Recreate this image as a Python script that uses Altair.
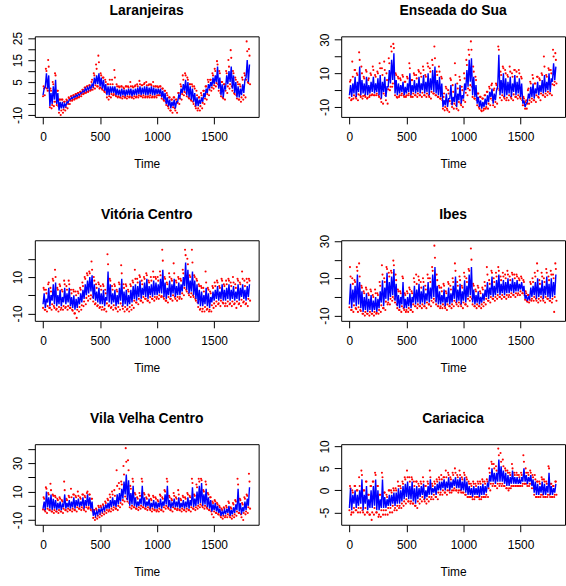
import altair as alt
import pandas as pd

FONT = "Liberation Sans"
STEP = 20  # time step between successive entries of every array below

# ---------------- Laranjeiras ----------------
lar_blue_hi = [2, 9, 8, 0, 3, 6, 0, -4, -4, -5,
               -4, -3, -2, -1.5, -1, -0.5, 0, 1, 2, 2.5,
               3, 4, 7, 8, 9, 7, 6, 4, 3, 3,
               3, 3, 2, 1.5, 2, 1.5, 1.5, 2, 2, 1.5,
               2, 2.5, 3, 2.5, 3, 3, 2.5, 3, 2.5, 2,
               2, 2, 1, 0, -2, -3, -4, -3, -4, -1,
               2, 4, 6, 5, 3, 2, 0, -2, -3, -2,
               0, 2, 4, 5, 7, 8, 12, 7, 4, 3,
               8, 10, 12, 8, 5, 3, 2, 4, 6, 15,
               13]
lar_blue_lo = [-1, 3, 2, -6, -5, -3, -5, -8, -7, -7,
               -6, -4.5, -3, -2.5, -2, -1.5, -1, 0, 0.5, 1,
               1.5, 2, 3, 4, 4, 3, 2, 1, -1, -1,
               0, 0, -1, -1, -1.5, -1, -1.5, -1, -1, -1.5,
               -1, -1, -0.5, -1, -0.5, -1, -1, -0.5, -1, -1,
               -0.5, -0.5, -2, -3, -5, -6, -7, -6, -7, -4,
               -2, 0, 1, -1, -2, -3, -4, -6, -6, -5,
               -4, -2, 0, 2, 3, 4, 5, 2, -1, -2,
               2, 4, 5, 2, 0, -2, -2, -1, 0, 7,
               5]
lar_red_hi = [3, 11, 15, 2, 5, 9, 1, -3, -3, -4,
              -3, -2, -1.5, -1, -0.5, 0, 0.5, 1.5, 2.5, 3,
              3.5, 5, 9, 13, 17, 9, 7, 6, 4, 6,
              6, 10.5, 4, 3, 3, 2.5, 3, 3, 5, 3,
              3, 4, 5.5, 3.5, 4, 5, 3.5, 4, 5, 3,
              3, 3, 2, 1, 0, -2, -3, -2, -3, 0,
              4, 8, 9, 7, 4, 4, 3, 1, -2, 0,
              1, 3, 6, 6, 9, 11, 14.5, 10, 5, 4,
              10, 15, 19.5, 10, 7, 5, 4, 7, 9, 23.5,
              20]
lar_red_lo = [-1, 2, 1, -7, -6, -4, -6, -10, -9, -8,
              -7, -5, -3.5, -3, -2.5, -2, -1.5, -0.5, 0, 0.5,
              1, 1.5, 2, 3, 2, 2, 1, 0, -3, -2,
              -1, -1, -2, -2, -2.5, -2, -2.5, -2, -2, -2.5,
              -2, -2, -1.5, -2, -2, -2, -2, -2, -2, -2,
              -1, -1, -3, -4, -6, -8, -9, -7, -9, -5,
              -3, -1, 0, -2, -3, -4, -6, -8, -8, -7,
              -5, -3, -1, 1, 2, 3, 4, 0, -2, -3,
              0, 2, 3, 0, -1, -3, -4, -3, -2, 5,
              4]
lar_red_hi2 = [2, 10, 12, 1, 4, 8, 1, -3, -3, -4,
               -3.5, -2.5, -1.5, -1, -0.5, 0, 0.5, 1.5, 2.5, 3,
               3.5, 6, 8, 11, 14, 8, 7, 5, 4, 4,
               4, 7, 3, 2.5, 3, 2, 3, 2.5, 3, 2.5,
               3.5, 3, 4, 3.5, 4.5, 3.5, 4, 3.5, 3, 3,
               2.5, 3, 2, 1, -1, -2, -3, -2, -3, 0,
               3, 6, 8, 6, 4, 3, 2, -1, -2, -1,
               1, 3, 5, 6, 8, 10, 13, 9, 5, 4,
               9, 12, 16, 9, 6, 4, 3, 6, 8, 19,
               17]
lar_red_lo2 = [-1.5, 2.5, 1, -6.5, -5.5, -4, -5.5, -9, -8, -7.5,
               -6.5, -5, -3.5, -3, -2.5, -2, -1.5, -0.5, 0, 0.5,
               1, 1.5, 2.5, 3.5, 3, 2.5, 1.5, 0.5, -2, -1.5,
               -0.5, -0.5, -1.5, -1.5, -2, -1.5, -2, -1.5, -1.5, -2,
               -1.5, -1.5, -1, -1.5, -1, -1.5, -1.5, -1, -1.5, -1.5,
               -1, -1, -2.5, -3.5, -5.5, -7, -8, -6.5, -8, -4.5,
               -2.5, -0.5, 0.5, -1.5, -2.5, -3.5, -5, -7, -7, -6,
               -4.5, -2.5, -0.5, 1.5, 2.5, 3.5, 4.5, 1, -1.5, -2.5,
               1, 3, 4, 1, -0.5, -2.5, -3, -2, -1, 6,
               4.5]

# ---------------- Enseada do Sua ----------------
ens_blue_hi = [3, 4, 8, 5, 14, 6, 4, 8, 3, 5,
               8, 4, 7, 9, 5, 8, 2, 12, 18, 22,
               6, 4, 3, 5, 2, 4, 10, 3, 6, 4,
               8, 4, 9, 5, 10, 7, 12, 14, 6, 8,
               4, -6, -2, -5, 3, -4, 4, -2, 3, -3,
               4, 12, 18, 19, 8, 3, -4, -6, -7, -5,
               -3, -1, 1, -2, 0, 21, 6, 10, 7, 5,
               8, 4, 9, 5, 7, 4, -6, -8, -2, 2,
               4, 1, 5, 3, 6, 9, 5, 10, 7, 16,
               14]
ens_blue_lo = [-3, -4, -2, -4, -1, -3, -2, -3, -3, -2,
               -1, -2, -1, -3, -5, -1, -4, 2, 4, 6,
               -2, -3, -2, -1, -3, -2, -1, -3, -1, -2,
               -1, -2, 0, -2, -1, -3, 0, -1, -2, -3,
               -4, -10, -9, -10, -5, -9, -7, -10, -6, -8,
               -5, 0, 2, 5, -3, -4, -8, -10, -11, -10,
               -9, -7, -4, -8, -6, 2, -3, -2, -4, -3,
               -2, -4, -1, -3, -2, -4, -8, -10, -7, -5,
               -4, -5, -2, -3, -1, -2, -1, 0, -1, 5,
               6]
ens_red_hi = [5, 17, 12, 10, 22.5, 14, 8, 12, 6, 10,
              14, 9, 11, 16, 13, 17, 10, 19, 26, 27.5,
              10, 8, 7, 9, 5, 8, 16, 6, 10, 9,
              12, 10, 14, 9, 16, 13, 18, 26, 11, 14,
              8, -4, 2, 0, 7, 3, 16, 4, 8, 2,
              10, 18, 24, 29, 14, 8, -2, -4, -5, -3,
              -1, 2, 3, 0, 4, 26, 11, 14, 12, 9,
              14, 10, 12, 11, 12, 8, -4, -7, 0, 5,
              9, 4, 8, 7, 10, 20, 9, 13, 12, 24,
              22]
ens_red_lo = [-6, -5, -4, -6, -3, -5, -3, -5, -4, -3,
              -3, -3, -3, -5, -8, -3, -8, 0, 2, 4,
              -4, -4, -3, -3, -4, -3, -3, -4, -3, -4,
              -3, -4, -3, -4, -3, -5, -2, -3, -4, -5,
              -6, -12, -11, -13, -8, -11, -9, -12, -8, -10,
              -7, -3, 0, 2, -5, -6, -10, -12, -12, -11,
              -11, -9, -6, -10, -8, 0, -6, -4, -6, -6,
              -4, -6, -4, -5, -4, -6, -9, -11, -8, -7,
              -6, -7, -4, -6, -3, -4, -3, -2, -3, 3,
              4]
ens_red_hi2 = [6, 8, 12, 9, 18, 10, 7, 11, 7, 9,
               12, 8, 10, 13, 9, 12, 6, 16, 23, 25,
               9, 7, 6, 8, 5, 7, 13, 6, 9, 7,
               11, 8, 12, 8, 14, 11, 15, 19, 9, 11,
               7, -2, 1, -2, 6, -1, 9, 1, 6, 0,
               7, 15, 21, 24, 11, 6, -2, -4, -5, -3,
               -1, 1, 4, 1, 3, 24, 9, 13, 10, 8,
               11, 8, 12, 8, 10, 7, -5, -6, 1, 4,
               7, 4, 8, 6, 9, 14, 8, 12, 10, 20,
               18]
ens_red_lo2 = [-4.5, -5.5, -3, -5, -2.5, -4, -3.5, -4, -4.5, -3,
               -2.5, -3, -2, -4, -7, -2, -6, 0.5, 2, 4,
               -3, -4.5, -3, -2, -4, -3, -2, -4, -2, -3,
               -2, -3, -1.5, -3, -2, -4, -1, -2, -3, -4,
               -5, -11, -10, -12, -6.5, -10, -8, -11, -7, -9,
               -6, -1.5, 1, 3, -4, -5, -9, -11, -12.5, -11,
               -10, -8, -5, -9, -7, 1, -4.5, -3, -5, -4.5,
               -3, -5, -2.5, -4, -3, -5, -9, -11, -8, -6,
               -5, -6, -3, -4.5, -2, -3, -2, -1, -2, 3.5,
               5]

# ---------------- Vitória Centro ----------------
vit_blue_hi = [1, -2, 4, 0, 6, 7, 0, 3, -1, 4,
               1, 4, -1, 0, -2, -1, 1, 3, 6, 8,
               10, 11, 6, 2, 4, 1, 3, -1, 13, 6,
               1, 3, 0, 4, 9, 2, 3, 0, 3, 5,
               6, 5, 8, 4, 7, 9, 5, 6, 8, 7,
               6, 9, 14, 7, 4, 8, 6, 9, 5, 7,
               6, 10, 18, 14, 8, 13, 8, 6, 3, 2,
               0, 4, 1, -1, 2, 3, 5, 2, 6, 3,
               4, 6, 3, 5, 2, 6, 4, 6, 3, 5,
               6]
vit_blue_lo = [-5, -7, -4, -6, -3, -5, -6, -5, -6, -4,
               -5, -4, -6, -7, -8, -7, -5, -4, -2, 0,
               1, 2, -2, -3, -4, -5, -5, -6, -3, -4,
               -5, -4, -6, -5, -3, -6, -5, -6, -5, -4,
               -2, -3, -1, -2, 0, -1, -2, 0, -1, 0,
               0, 1, 1, -1, -2, 0, -1, 1, -1, 0,
               0, 2, 5, 3, 1, 2, 0, -2, -5, -6,
               -6, -5, -6, -7, -4, -3, -2, -3, -2, -3,
               -3, -2, -3, -2, -3, -2, -3, -1, -2, -3,
               -1]
vit_red_hi = [4, 3, 6, 4, 9, 14, 4, 6, 3, 8,
              5, 8, 3, 3, 2, 2, 4, 7, 10, 12,
              13, 18.5, 10, 6, 7, 5, 6, 3, 22.5, 9,
              5, 6, 3, 7, 16.5, 6, 6, 3, 6, 8,
              14, 9, 11, 8, 10, 12, 8, 10, 13, 10,
              10, 13, 25, 10, 7, 12, 9, 17.5, 8, 10,
              9, 14, 25, 20, 11, 25, 11, 9, 6, 5,
              4, 13, 4, 2, 5, 7, 8, 5, 9, 6,
              8, 9, 7, 10, 6, 9, 7, 13, 8, 9,
              9]
vit_red_lo = [-8, -9, -7, -8, -6, -8, -9, -8, -8, -7,
              -8, -7, -8, -10, -12.5, -9, -8, -6, -5, -3,
              -2, -1, -5, -6, -7, -8, -8, -9, -6, -7,
              -8, -7, -9, -8, -6, -9, -8, -9, -8, -7,
              -4, -5, -3, -4, -2, -3, -4, -2, -3, -2,
              -2, -1, -1, -3, -4, -2, -3, -1, -3, -2,
              -2, 0, 3, 1, -1, 0, -2, -4, -8, -9,
              -9, -8, -9, -9, -7, -6, -5, -6, -4, -6,
              -6, -5, -6, -5, -7, -5, -6, -4, -5, -6,
              -3]
vit_red_hi2 = [3, 1, 7, 2, 8, 10, 3, 5, 2, 6,
               3, 6, 1, 2, 0, 1, 3, 5, 9, 11,
               12, 14, 8, 4, 6, 3, 5, 1, 17, 8,
               3, 5, 2, 6, 12, 4, 5, 2, 5, 7,
               9, 7, 10, 6, 9, 11, 7, 8, 10, 9,
               8, 11, 19, 9, 6, 10, 8, 12, 7, 9,
               8, 12, 22, 17, 10, 18, 10, 8, 5, 4,
               2, 7, 3, 1, 4, 5, 7, 4, 8, 5,
               6, 8, 5, 7, 4, 8, 6, 9, 5, 7,
               8]
vit_red_lo2 = [-7, -8, -6, -7, -5, -7, -7.5, -6.5, -7, -6,
               -6.5, -6, -7, -8.5, -10, -8, -6.5, -5.5, -3.5, -1.5,
               -0.5, 0, -3.5, -4.5, -5.5, -6.5, -6.5, -7.5, -4.5, -5.5,
               -6.5, -5.5, -7.5, -6.5, -4.5, -7.5, -6.5, -7.5, -6.5, -5.5,
               -3, -4, -2, -3, -1, -2, -3, -1, -2, -1,
               -1, 0, -0.5, -2, -3, -1, -2, 0, -2, -1,
               -1, 1, 4, 2, 0, 1, -1, -3, -6.5, -7.5,
               -7.5, -6.5, -7.5, -8, -5.5, -4.5, -3.5, -4.5, -3, -4.5,
               -4.5, -3.5, -4.5, -3.5, -4.5, -3.5, -4.5, -2.5, -3.5, -4.5,
               -2]

# ---------------- Ibes ----------------
ibe_blue_hi = [7, 4, 6, 12, 8, 3, 0, 2, -1, 1,
               -2, 0, -1, 3, 9, 5, 13, 8, 11, 15,
               7, 1, 0, 8, -1, 0, 2, 0, 6, 4,
               7, 3, 6, 2, 8, 5, 12, 16, 6, 3,
               1, 4, 0, 5, 2, 6, 11, 4, 7, 3,
               9, 6, 12, 16, 4, 1, 3, 0, 2, 4,
               8, 5, 11, 6, 9, 12, 7, 9, 8, 10,
               7, 10, 8, 9, 7, 8, 6, 1, 0, 5,
               6, 8, 10, 5, 9, 6, 11, 7, 10, 8,
               12]
ibe_blue_lo = [-4, -6, -3, -5, -4, -6, -8, -7, -8, -7,
               -8, -7, -8, -6, -3, -5, -1, -2, 0, 1,
               -2, -5, -6, -4, -6, -6, -5, -6, -3, -4,
               -3, -4, -3, -4, -2, -3, -1, 0, -3, -4,
               -4, -3, -5, -3, -4, -3, -1, -3, -2, -4,
               -2, -3, 0, 1, -3, -4, -3, -4, -3, -2,
               0, -1, 1, 0, 1, 2, 1, 2, 1, 2,
               2, 3, 2, 3, 3, 4, 3, -1, -2, -1,
               0, 1, -1, 0, 1, -1, 1, 0, -1, 0,
               1]
ibe_red_hi = [16, 10, 9, 16, 18, 6, 3, 5, 2, 4,
              1, 4, 2, 8, 17, 10, 16, 13, 14, 19.5,
              12, 4, 3, 11, 2, 3, 5, 3, 10, 12,
              11, 8, 10, 6, 12, 10, 16, 27.5, 12, 6,
              5, 7, 3, 8, 6, 10, 18, 8, 11, 6,
              13, 10, 15, 26, 7, 4, 6, 3, 5, 8,
              16, 9, 14, 10, 13, 16, 11, 13, 12, 14,
              11, 13, 12, 12, 10, 11, 9, 3, 1, 8,
              10, 13, 18, 9, 13, 10, 15, 11, 14, 12,
              18]
ibe_red_lo = [-7, -8, -6, -8, -7, -9, -10, -9, -10, -9,
              -10, -9, -9, -8, -6, -7, -4, -4, -2, -1,
              -4, -7, -8, -6, -8, -8, -7, -8, -5, -6,
              -5, -6, -5, -6, -4, -5, -3, -2, -5, -6,
              -6, -5, -7, -5, -6, -5, -3, -5, -4, -6,
              -4, -5, -2, -1, -5, -6, -5, -6, -5, -4,
              -2, -3, -1, -2, -1, 0, -1, 0, -1, 0,
              0, 1, 0, 1, 1, 2, 1, -2, -3, -2,
              -2, -1, -3, -2, -1, -3, -1, -2, -3, -8,
              -2]
ibe_red_hi2 = [11, 7, 8, 14, 11, 5, 2, 4, 1, 3,
               0, 2, 1, 6, 12, 8, 15, 11, 13, 17,
               9, 3, 2, 10, 1, 2, 4, 2, 8, 7,
               9, 5, 8, 4, 10, 8, 14, 21, 9, 5,
               3, 6, 2, 7, 4, 8, 14, 6, 9, 5,
               11, 8, 14, 20, 6, 3, 5, 2, 4, 6,
               12, 7, 13, 8, 11, 14, 9, 11, 10, 12,
               9, 12, 10, 11, 9, 10, 8, 2, 1, 7,
               8, 11, 14, 7, 11, 8, 13, 9, 12, 10,
               15]
ibe_red_lo2 = [-5.5, -7, -4.5, -6.5, -5.5, -7.5, -9, -8, -9, -8,
               -9, -8, -8.5, -7, -4.5, -6, -2.5, -3, -1, 0,
               -3, -6, -7, -5, -7, -7, -6, -7, -4, -5,
               -4, -5, -4, -5, -3, -4, -2, -1, -4, -5,
               -5, -4, -6, -4, -5, -4, -2, -4, -3, -5,
               -3, -4, -1, 0, -4, -5, -4, -5, -4, -3,
               -1, -2, 0, -1, 0, 1, 0, 1, 0, 1,
               1, 2, 1, 2, 2, 3, 2, -1.5, -2.5, -1.5,
               -1, 0, -2, -1, 0, -2, 0, -1, -2, -1,
               0]

# ---------------- Vila Velha Centro ----------------
vvc_blue_hi = [3, 10, 6, 8, 5, 4, 2, 3, 1, 8,
               2, 4, 3, 6, 4, 5, 3, 6, 4, 8,
               6, 3, -4, -4, -2, -2, -1, 1, 2, 4,
               6, 4, 8, 9, 12, 17, 22, 18, 9, 14,
               6, 3, 5, 14, 6, 3, 5, 2, 4, 3,
               2, 5, 3, 8, 14, 4, 2, 5, 3, 6,
               2, 4, 3, 6, 4, 13, 5, 10, 14, 16,
               8, 12, 6, 4, 1, 2, 0, -2, -4, -3,
               -2, 0, -3, -1, 1, 12, 2, -1, 3, 5,
               13]
vvc_blue_lo = [-2, -3, -1, -2, -3, -2, -3, -2, -3, -1,
               -2, -1, -2, -1, -2, 0, -1, 0, -2, 0,
               0, -2, -7, -7, -6, -5, -4, -3, -2, -2,
               -1, 0, -1, 1, 3, 5, 8, 4, 0, 1,
               0, -1, 0, 1, 0, -1, 0, -2, -1, -2,
               -2, -1, -2, 0, 1, -1, -2, 0, -1, -1,
               -2, -1, -2, -1, -2, 0, -1, 0, 1, 2,
               0, 1, -1, -2, -4, -3, -4, -5, -7, -6,
               -6, -5, -7, -6, -5, -3, -4, -6, -4, -3,
               0]
vvc_red_hi = [6, 13, 9, 15.5, 8, 7, 5, 6, 4, 17,
              5, 7, 12, 8, 7, 10, 6, 8, 7, 9,
              8, 5, -3, -2, 0, 0, 1, 3, 5, 8,
              10, 11, 25, 16, 17, 28, 40.5, 32, 14, 19,
              9, 6, 9, 19, 9, 6, 8, 5, 7, 6,
              4, 8, 6, 11, 19, 7, 5, 9, 6, 11,
              5, 7, 6, 9, 7, 19, 8, 15, 19, 19,
              11, 17, 9, 6, 3, 4, 2, 0, -2, -1,
              0, 3, -1, 2, 4, 19, 5, 2, 6, 8,
              22.5]
vvc_red_lo = [-3, -5, -3, -4, -5, -4, -5, -4, -5, -3,
              -4, -3, -4, -3, -4, -2, -3, -2, -4, -2,
              -2, -4, -10, -9, -8, -7, -6, -5, -4, -4,
              -3, -2, -3, -1, 1, 3, 5, 2, -2, -1,
              -2, -3, -2, -1, -2, -3, -2, -4, -3, -4,
              -4, -3, -4, -2, -1, -3, -4, -2, -3, -3,
              -4, -3, -4, -3, -4, -2, -3, -2, -1, 0,
              -2, -1, -3, -4, -8, -5, -6, -7, -9, -8,
              -8, -7, -9, -8, -7, -5, -6, -10, -6, -5,
              -2]
vvc_red_hi2 = [5, 12, 8, 11, 7, 6, 4, 5, 3, 11,
               4, 6, 6, 8, 6, 7, 5, 8, 6, 10,
               8, 5, -3, -3, -1, -1, 0, 2, 4, 6,
               8, 7, 14, 12, 15, 22, 31, 25, 12, 17,
               8, 5, 7, 17, 8, 5, 7, 4, 6, 5,
               3, 7, 5, 10, 17, 6, 4, 7, 5, 8,
               4, 6, 5, 8, 6, 16, 7, 13, 17, 18,
               10, 15, 8, 6, 2, 3, 1, -1, -3, -2,
               -1, 2, -2, 1, 3, 15, 4, 1, 5, 7,
               17]
vvc_red_lo2 = [-2.5, -4, -2, -3, -4, -3, -4, -3, -4, -2,
               -3, -2, -3, -2, -3, -1, -2, -1, -3, -1,
               -1, -3, -8.5, -8, -7, -6, -5, -4, -3, -3,
               -2, -1, -2, 0, 2, 4, 6.5, 3, -1, 0,
               -1, -2, -1, 0, -1, -2, -1, -3, -2, -3,
               -3, -2, -3, -1, 0, -2, -3, -1, -2, -2,
               -3, -2, -3, -2, -3, -1, -2, -1, 0, 1,
               -1, 0, -2, -3, -6, -4, -5, -6, -8, -7,
               -7, -6, -8, -7, -6, -4, -5, -8, -5, -4,
               -1]

# ---------------- Cariacica ----------------
car_blue_hi = [0.5, -1, 0, -1, 0, 2.5, -1, 1, -2, 0,
               1, 2.5, 0, -2, 2.5, -1.5, -2, -1, -1, -0.5,
               -0.5, 0.5, 0, 1, 1.5, 2, 1, 2, 0.5, 1,
               0.5, 1, 1.5, 0, 1, 2.5, 0.5, 1, 1.5, 2,
               2, 2.5, 2, 3, 2, 2.5, 3, 2.5, 3, 2,
               3, 2, 1, 0.5, 1, 0.5, 1, 1, 1.5, 1,
               1.5, 3.5, 5, 4, 4, 7, 5.5, 4.5, 4, 3.5,
               3, 4.5, 3, 3, 2.5, 3, 5, 3.5, 3, 3.5,
               2.5, 2, 1.5, 1, 2, 1.5, 1, 4, 1, 0.5,
               1.5]
car_blue_lo = [-4, -4.5, -3, -4, -3.5, -3, -4.5, -3, -4.5, -4,
               -4, -3.5, -4.5, -4.5, -4, -4, -4, -3.5, -3.5, -3,
               -3.5, -3, -3, -2.5, -2, -1.5, -2, -2, -2.5, -3,
               -2, -1.5, -1, -2, -1.5, -1, -1, -0.5, -1, 0,
               0, 0.5, 0, 0.5, 0, 0.5, 1, 0.5, 0.5, 0,
               0, -0.5, -1, -1, -1.5, -1, -1, -1.5, -1, -1,
               -0.5, 1, 2, 2, 1.5, 2, 2, 2, 1.5, 1,
               1, 1.5, 1.5, 1.5, 1.5, 1.5, 2, 2, 1.5, 2,
               1, -0.5, -1, -1, -0.5, -1, -1, -0.5, -1, -1,
               -0.5]
car_red_hi = [1, 0, 1, 0, 3, 4.5, 0, 2, -1, 1,
              2, 4, 1, -1, 4, -0.5, -1, 0, 0, 0.5,
              0.5, 2, 1, 2, 3, 4.5, 3, 3, 2, 2,
              1.5, 2, 3, 1, 2, 4.5, 1.5, 2, 2.5, 3,
              3.5, 3, 4.5, 4, 3, 4, 5, 3.5, 4.5, 3,
              4, 3, 2, 1.5, 2, 1.5, 2, 2, 2.5, 2,
              2.5, 5, 6.5, 6, 5.5, 9.5, 8.5, 7, 5, 4.5,
              4, 6, 4, 4, 3.5, 4, 8, 5, 4, 4.5,
              3.5, 3.5, 2, 2, 3, 2.5, 2, 5.5, 1.5, 1,
              2]
car_red_lo = [-5.5, -5, -4.5, -5, -5, -4.5, -5.5, -5, -5.5, -6.7,
              -5.5, -5, -6, -6, -5.5, -5.5, -5.5, -5, -5, -4.5,
              -4.5, -4, -4, -3.5, -3, -2.5, -3, -3, -3.5, -4,
              -3, -2.5, -2, -3, -2.5, -2, -2, -1.5, -2, -1,
              -1, -0.5, -1, 0, -0.5, 0, 0, -0.5, 0, -0.5,
              -1, -1.5, -1.5, -1.5, -2, -1.5, -1.5, -2, -1.5, -1.5,
              -1.5, 0, 1, 1, 0.5, 1, 1, 1, 0.5, 0,
              0.5, 1, 1, 1, 1, 1, 1.5, 1.5, 1, 1.5,
              0.5, -1.5, -1.5, -1.5, -1, -1.5, -1.5, -1, -1.5, -1.5,
              -1]
car_red_hi2 = [0.5, -0.5, 1, 0, 1, 3.5, 0, 2, -1, 1,
               2, 3.5, 1, -1, 3, -0.5, -1.5, 0, -0.5, 0,
               0, 1, 0.5, 1.5, 2.5, 3, 2, 2.5, 1, 2,
               1, 1.5, 2, 1, 1.5, 3, 1, 1.5, 2, 2.5,
               2.5, 3, 3, 3.5, 2.5, 3.5, 4, 3, 3.5, 2.5,
               3.5, 2.5, 1.5, 1, 1.5, 1, 1.5, 1.5, 2, 1.5,
               2, 4, 6, 5, 4.5, 8, 6.5, 5.5, 4.5, 4,
               3.5, 5, 3.5, 3.5, 3, 3.5, 6.5, 4, 3.5, 4,
               3, 2.5, 2, 1.5, 2.5, 2, 1.5, 5, 1.5, 1,
               2]
car_red_lo2 = [-4.5, -5, -4, -4.5, -4, -4, -5, -4, -5, -5.5,
               -5, -4, -5, -5.5, -4.5, -4.5, -4.5, -4, -4, -3.5,
               -4, -3.5, -3.5, -3, -2.5, -2, -2.5, -2.5, -3, -3.5,
               -2.5, -2, -1.5, -2.5, -2, -1.5, -1.5, -1, -1.5, -0.5,
               -0.5, 0, -0.5, 0, -0.5, 0, 0.5, 0, 0, -0.5,
               -0.5, -1, -1.5, -1.5, -2, -1.5, -1.5, -2, -1.5, -1.5,
               -1, 0.5, 1.5, 1.5, 1, 1.5, 1.5, 1.5, 1, 0.5,
               0.5, 1, 1, 1, 1, 1, 1.5, 1.5, 1, 1.5,
               0.5, -1, -1.5, -1.5, -1, -1.5, -1.5, -1, -1.5, -1.5,
               -1]

X_TICKS = [0, 500, 1000, 1500]
X_DOMAIN = [-72, 1890]
PW, PH = 225, 81

panels = [
    ("Laranjeiras", lar_blue_hi, lar_blue_lo,
     [lar_red_hi, lar_red_lo, lar_red_hi2, lar_red_lo2],
     [-10.9, 25.8], [-10, -5, 0, 5, 10, 15, 20, 25], [25, 15, 5, -10]),
    ("Enseada do Sua", ens_blue_hi, ens_blue_lo,
     [ens_red_hi, ens_red_lo, ens_red_hi2, ens_red_lo2],
     [-15.9, 32], [-10, 0, 10, 20, 30], [30, 10, -10]),
    ("Vitória Centro", vit_blue_hi, vit_blue_lo,
     [vit_red_hi, vit_red_lo, vit_red_hi2, vit_red_lo2],
     [-14.1, 30.2], [-10, 0, 10, 20], [10, -10]),
    ("Ibes", ibe_blue_hi, ibe_blue_lo,
     [ibe_red_hi, ibe_red_lo, ibe_red_hi2, ibe_red_lo2],
     [-12.8, 30.4], [-10, 0, 10, 20, 30], [30, 10, -10]),
    ("Vila Velha Centro", vvc_blue_hi, vvc_blue_lo,
     [vvc_red_hi, vvc_red_lo, vvc_red_hi2, vvc_red_lo2],
     [-13.3, 43.3], [-10, 0, 10, 20, 30, 40], [30, 10, -10]),
    ("Cariacica", car_blue_hi, car_blue_lo,
     [car_red_hi, car_red_lo, car_red_hi2, car_red_lo2],
     [-7.8, 10.5], [-5, 0, 5, 10], [10, 5, 0, -5]),
]

# time offsets (within each STEP) of the four red series
RED_OFFSETS = [STEP / 4, 3 * STEP / 4, STEP / 2, 0]


def make_panel(title, bhi, blo, reds, ydom, yticks, ylabels):
    blue_rows, red_rows = [], []
    for i, (lo, hi) in enumerate(zip(blo, bhi)):
        t0 = i * STEP
        blue_rows.append({"t": t0, "v": lo})
        blue_rows.append({"t": t0 + STEP / 2, "v": hi})
    for series, off in zip(reds, RED_OFFSETS):
        for i, v in enumerate(series):
            red_rows.append({"t": i * STEP + off, "v": v})
    blue = pd.DataFrame(blue_rows)
    red = pd.DataFrame(red_rows)

    show = ",".join(str(v) for v in ylabels)
    label_expr = f"indexof([{show}], datum.value) >= 0 ? '' + datum.value : ''"

    x = alt.X("t:Q",
              scale=alt.Scale(domain=X_DOMAIN, nice=False, zero=False),
              axis=alt.Axis(values=X_TICKS, title="Time", labelExpr="'' + datum.value",
                            titleY=51, titleBaseline="alphabetic"))
    y = alt.Y("v:Q",
              scale=alt.Scale(domain=ydom, nice=False, zero=False),
              axis=alt.Axis(values=yticks, title=None, labelExpr=label_expr,
                            labelAngle=270, labelAlign="center",
                            labelBaseline="alphabetic", labelPadding=6))

    pts = alt.Chart(red).mark_circle(color="#ff0000", size=4.5, opacity=1).encode(x=x, y=y)
    line = alt.Chart(blue).mark_line(color="#0000ff", strokeWidth=1.4).encode(x=x, y=y)
    ttl = alt.Chart(pd.DataFrame({"name": [title]})).mark_text(
        font=FONT, fontSize=14, fontWeight="bold", color="black",
        align="center", baseline="alphabetic",
    ).encode(text="name:N", x=alt.value(PW / 2), y=alt.value(-21.5))
    return alt.layer(pts, line, ttl).properties(width=PW, height=PH)


charts = [make_panel(*p) for p in panels]

chart = alt.concat(
    *charts, columns=2, spacing={"row": 124, "column": 83}, bounds="flush"
).properties(
    padding={"left": 11, "top": 2, "right": 0, "bottom": 0},
    background="white",
).configure_view(
    stroke="black", strokeWidth=1
).configure_axis(
    domain=False, grid=False, ticks=True, tickColor="black", tickSize=7,
    labelFont=FONT, labelFontSize=12, labelColor="black", labelPadding=8,
    titleFont=FONT, titleFontSize=12, titleFontWeight="normal", titleColor="black",
    labelOverlap=False,
)

chart.save("out.html", embed_options={"renderer": "svg", "actions": False})
